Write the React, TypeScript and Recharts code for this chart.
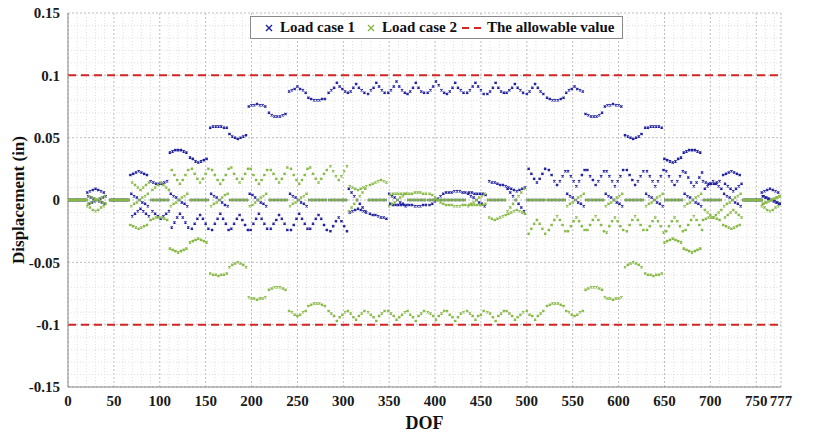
import { ScatterChart, Scatter, XAxis, YAxis, CartesianGrid, ReferenceLine } from 'recharts';

// DOF where each group of 7 nodes starts (3 DOF per node)
const segStart = [0, 21, 46, 68, 90, 111, 133, 155, 176, 197, 219, 241, 262, 284, 305, 327, 349, 370, 392, 413, 435, 457, 478, 500, 522, 543, 564, 585, 607, 629, 650, 671, 692, 714, 736, 756];

const Z = [0, 0, 0, 0, 0, 0, 0];

// displacements in 1e-3 in, one row per group
const lc1Main = [
  Z, [6, 7, 8, 9, 8, 7, 6], Z,
  [20, 21, 22, 23, 22, 21, 20], [15, 14, 13, 13, 13, 14, 15],
  [38, 39, 40, 40, 40, 39, 38], [34, 33, 31, 30, 31, 32, 33],
  [58, 59, 59, 59, 59, 58, 58], [53, 51, 50, 49, 50, 51, 52],
  [75, 76, 76, 77, 76, 76, 75], [70, 68, 67, 67, 67, 68, 69],
  [87, 88, 89, 91, 89, 88, 86], [82, 81, 80, 80, 80, 81, 81],
  [86, 88, 90, 94, 91, 89, 87], [86, 87, 90, 93, 90, 88, 86],
  [85, 88, 90, 94, 91, 88, 86], [86, 88, 91, 95, 91, 88, 86],
  [85, 87, 90, 94, 90, 87, 86], [86, 88, 91, 95, 92, 88, 86],
  [85, 87, 90, 94, 90, 88, 86], [86, 88, 91, 94, 91, 88, 85],
  [85, 87, 90, 94, 90, 87, 86], [86, 88, 90, 93, 90, 88, 86],
  [85, 87, 90, 93, 90, 87, 85],
  [82, 81, 80, 80, 80, 81, 82], [86, 88, 89, 91, 89, 88, 87],
  [69, 68, 67, 67, 67, 68, 70], [75, 76, 76, 77, 76, 76, 75],
  [52, 51, 50, 49, 50, 51, 53], [58, 58, 59, 59, 59, 59, 58],
  [33, 32, 31, 30, 31, 33, 34], [38, 39, 40, 40, 40, 39, 38],
  [15, 14, 13, 13, 13, 14, 15], [20, 21, 22, 23, 22, 21, 20],
  Z, [6, 7, 8, 9, 8, 7, 6],
];

const lc1Cross = [
  Z, [3, 2, 1, 0, -1, -2, -3], Z,
  [5, 3, 2, 0, -2, -3, -5], Z, [5, 3, 2, 0, -2, -3, -5], Z,
  [5, 3, 2, 0, -2, -4, -5], Z, [5, 4, 2, 0, -2, -3, -5], Z,
  [5, 3, 2, 0, -2, -3, -5], Z, Z,
  [9, 6, 3, 0, -3, -6, -9], Z, [5, 3, 2, 0, -2, -3, -5], Z, Z, Z,
  [5, 3, 2, 0, -2, -3, -5], Z, [9, 6, 3, 0, -3, -6, -9], Z, Z,
  [5, 3, 2, 0, -2, -3, -5], Z, [5, 3, 2, 0, -2, -3, -5], Z,
  [5, 3, 2, 0, -2, -3, -5], Z, [5, 3, 2, 0, -2, -3, -5], Z,
  [5, 3, 2, 0, -2, -3, -5], Z, [3, 2, 1, 0, -1, -2, -3],
];

const lc1Zig = [
  Z, [-3, -2, -1, 0, 1, 2, 3], Z,
  [-13, -11, -9, -7, -9, -11, -13], [-9, -11, -13, -15, -13, -11, -9],
  [-22, -18, -14, -11, -14, -18, -22], [-23, -19, -15, -12, -15, -19, -23],
  [-24, -19, -15, -11, -15, -19, -24], [-23, -19, -15, -12, -16, -20, -24],
  [-24, -19, -15, -11, -15, -19, -23], [-23, -19, -16, -12, -15, -19, -24],
  [-24, -20, -15, -11, -15, -19, -23], [-23, -19, -15, -12, -15, -20, -24],
  [-25, -21, -17, -14, -17, -21, -25],
  [-10, -9, -8, -7, -8, -9, -10], [-11, -12, -12, -13, -14, -14, -15],
  [-3, -4, -4, -4, -4, -4, -4], [-4, -4, -5, -5, -5, -4, -4],
  [-4, -3, -1, 1, 3, 5, 6], [6, 6, 7, 7, 7, 6, 6], [6, 6, 5, 5, 5, 5, 4],
  [15, 14, 14, 13, 12, 12, 11], [10, 9, 8, 7, 8, 9, 10],
  [25, 21, 17, 14, 17, 21, 25],
  [24, 20, 15, 12, 15, 19, 23], [23, 19, 15, 11, 15, 20, 24],
  [24, 19, 16, 12, 15, 19, 23], [23, 19, 15, 11, 15, 19, 24],
  [24, 20, 16, 12, 15, 19, 23], [23, 19, 15, 11, 15, 19, 24],
  [23, 19, 15, 12, 15, 19, 23], [22, 18, 14, 11, 14, 18, 22],
  [9, 11, 13, 15, 13, 11, 9], [13, 11, 9, 7, 9, 11, 13],
  Z, [3, 2, 1, 0, -1, -2, -3],
];

const lc2Main = [
  Z, [-5, -6, -8, -9, -8, -6, -5], Z,
  [-20, -21, -22, -23, -22, -21, -20], [-16, -15, -14, -14, -14, -15, -16],
  [-39, -40, -41, -42, -41, -40, -39], [-34, -33, -32, -31, -32, -33, -34],
  [-59, -60, -60, -61, -60, -60, -59], [-54, -52, -51, -50, -51, -52, -54],
  [-78, -79, -79, -80, -79, -79, -78], [-72, -71, -70, -70, -70, -71, -72],
  [-89, -90, -92, -93, -92, -90, -89], [-85, -84, -83, -83, -83, -84, -85],
  [-89, -91, -93, -97, -94, -92, -90], [-89, -91, -94, -96, -93, -91, -89],
  [-90, -92, -94, -97, -93, -91, -89], [-89, -91, -93, -96, -94, -92, -90],
  [-89, -92, -94, -97, -93, -91, -89], [-90, -91, -93, -96, -93, -91, -89],
  [-89, -92, -94, -97, -94, -91, -90], [-89, -91, -93, -96, -93, -92, -89],
  [-90, -91, -94, -97, -93, -91, -89], [-89, -91, -93, -96, -94, -92, -90],
  [-89, -92, -93, -96, -93, -91, -89],
  [-85, -84, -83, -83, -83, -84, -85], [-89, -90, -92, -93, -92, -90, -89],
  [-72, -71, -70, -70, -70, -71, -72], [-78, -79, -79, -80, -79, -79, -78],
  [-54, -52, -51, -50, -51, -52, -54], [-59, -60, -60, -61, -60, -60, -59],
  [-34, -33, -32, -31, -32, -33, -34], [-39, -40, -41, -42, -41, -40, -39],
  [-16, -15, -14, -14, -14, -15, -16], [-20, -21, -22, -23, -22, -21, -20],
  Z, [-5, -6, -8, -9, -8, -6, -5],
];

const lc2Cross = [
  Z, [-3, -2, -1, 0, 1, 2, 3], Z,
  [-5, -3, -2, 0, 2, 3, 5], Z, [-5, -3, -2, 0, 2, 3, 5], Z,
  [-5, -3, -2, 0, 2, 4, 5], Z, [-5, -4, -2, 0, 2, 3, 5], Z,
  [-5, -3, -2, 0, 2, 3, 5], Z, Z,
  [-9, -6, -3, 0, 3, 6, 9], Z, [-5, -3, -2, 0, 2, 3, 5], Z, Z, Z,
  [-5, -3, -2, 0, 2, 3, 5], Z, [-9, -6, -3, 0, 3, 6, 9], Z, Z,
  [-5, -3, -2, 0, 2, 3, 5], Z, [-5, -3, -2, 0, 2, 3, 5], Z,
  [-5, -3, -2, 0, 2, 3, 5], Z, [-5, -3, -2, 0, 2, 3, 5], Z,
  [-5, -3, -2, 0, 2, 3, 5], Z, [-3, -2, -1, 0, 1, 2, 3],
];

const lc2Zig = [
  Z, [3, 2, 1, 0, -1, -2, -3], Z,
  [14, 12, 10, 8, 10, 12, 14], [8, 10, 12, 14, 12, 10, 8],
  [24, 20, 16, 13, 16, 20, 24], [25, 21, 17, 14, 17, 21, 25],
  [24, 20, 16, 13, 16, 20, 25], [26, 21, 17, 14, 17, 21, 25],
  [25, 20, 16, 13, 16, 20, 24], [24, 21, 17, 14, 17, 21, 26],
  [25, 20, 16, 13, 16, 20, 25], [26, 21, 17, 14, 17, 21, 24],
  [27, 23, 19, 16, 19, 23, 27],
  [11, 10, 9, 8, 9, 10, 11], [12, 13, 14, 15, 16, 15, 14],
  [4, 5, 5, 5, 5, 5, 5], [5, 5, 6, 6, 6, 5, 5],
  [5, 4, 2, 0, -2, -3, -4], [-4, -4, -5, -5, -5, -4, -4], [-4, -4, -4, -4, -4, -4, -3],
  [-14, -15, -16, -15, -14, -13, -12], [-11, -10, -9, -8, -9, -10, -11],
  [-27, -23, -19, -16, -19, -23, -27],
  [-24, -20, -16, -13, -16, -20, -25], [-25, -21, -17, -14, -17, -21, -24],
  [-24, -20, -16, -13, -16, -20, -25], [-26, -21, -17, -14, -17, -21, -24],
  [-25, -20, -16, -13, -16, -20, -24], [-24, -21, -17, -14, -17, -21, -26],
  [-25, -21, -17, -14, -17, -21, -25], [-24, -20, -16, -13, -16, -20, -24],
  [-8, -10, -12, -14, -12, -10, -8], [-14, -12, -10, -8, -10, -12, -14],
  Z, [-3, -2, -1, 0, 1, 2, 3],
];

const allowable = [0.1, -0.1];
const seriesNames = ['Load case 1', 'Load case 2', 'The allowable value'];

const xTicks = [0, 50, 100, 150, 200, 250, 300, 350, 400, 450, 500, 550, 600, 650, 700, 750, 777];
const yTicks = [-0.15, -0.1, -0.05, 0, 0.05, 0.1, 0.15];
const xMinor = [10, 20, 30, 40, 60, 70, 80, 90, 110, 120, 130, 140, 160, 170, 180, 190, 210, 220, 230, 240, 260, 270, 280, 290, 310, 320, 330, 340, 360, 370, 380, 390, 410, 420, 430, 440, 460, 470, 480, 490, 510, 520, 530, 540, 560, 570, 580, 590, 610, 620, 630, 640, 660, 670, 680, 690, 710, 720, 730, 740, 760, 770];
const yMinor = [-0.14, -0.13, -0.12, -0.11, -0.09, -0.08, -0.07, -0.06, -0.04, -0.03, -0.02, -0.01, 0.01, 0.02, 0.03, 0.04, 0.06, 0.07, 0.08, 0.09, 0.11, 0.12, 0.13, 0.14];

const BLUE = '#1e1e9e';
const GREEN = '#86b843';
const RED = '#d42424';
const FONT = 'Liberation Serif, serif';

function toPoints(tracks: number[][][]) {
  const pts: { x: number; y: number }[] = [];
  tracks.forEach((track, offset) => {
    track.forEach((vals, k) => {
      vals.forEach((v, j) => {
        pts.push({ x: segStart[k] + 3 * j + offset, y: v / 1000 });
      });
    });
  });
  return pts;
}

const lc1Points = toPoints([lc1Main, lc1Cross, lc1Zig]);
const lc2Points = toPoints([lc2Main, lc2Cross, lc2Zig]);

const crossShape = (color: string) => (props: any) => {
  const { cx, cy } = props;
  if (cx == null || cy == null) return <g />;
  const s = 1.1;
  return (
    <path
      d={`M${cx - s},${cy - s}L${cx + s},${cy + s}M${cx - s},${cy + s}L${cx + s},${cy - s}`}
      stroke={color}
      strokeWidth={1.2}
      fill="none"
    />
  );
};

const tickStyle = { fontFamily: FONT, fontWeight: 'bold', fontSize: 15, fill: '#1a1a1a' };

function LegendBox() {
  return (
    <div
      style={{
        position: 'absolute', left: 250, top: 16, width: 371, height: 21,
        border: '1px solid #8a8a8a', background: '#fff', display: 'flex', alignItems: 'center',
        fontFamily: FONT, fontWeight: 'bold', fontSize: 15, color: '#111', whiteSpace: 'nowrap',
      }}
    >
      <svg width={12} height={10} style={{ marginLeft: 12, marginRight: 5 }}>
        <path d="M3,2L9,8M3,8L9,2" stroke={BLUE} strokeWidth={1.4} />
      </svg>
      <span>{seriesNames[0]}</span>
      <svg width={12} height={10} style={{ marginLeft: 10, marginRight: 5 }}>
        <path d="M3,2L9,8M3,8L9,2" stroke={GREEN} strokeWidth={1.4} />
      </svg>
      <span>{seriesNames[1]}</span>
      <svg width={22} height={10} style={{ marginLeft: 4, marginRight: 4 }}>
        <path d="M1,5L21,5" stroke={RED} strokeWidth={2} strokeDasharray="7 5" />
      </svg>
      <span>{seriesNames[2]}</span>
    </div>
  );
}

export default function App() {
  return (
    <div style={{ position: 'absolute', left: 0, top: 0, width: 815, height: 434, background: '#fff' }}>
      <ScatterChart width={815} height={434} margin={{ top: 13, right: 34, bottom: 0, left: 0 }}>
        {xMinor.map((v) => (
          <ReferenceLine key={'xm' + v} x={v} stroke="#e0e0e0" strokeDasharray="1 2" />
        ))}
        {yMinor.map((v) => (
          <ReferenceLine key={'ym' + v} y={v} stroke="#e0e0e0" strokeDasharray="1 2" />
        ))}
        <CartesianGrid stroke="#bdbdbd" strokeDasharray="2 2" />
        <XAxis
          type="number"
          dataKey="x"
          domain={[0, 777]}
          ticks={xTicks}
          interval={0}
          allowDataOverflow
          height={47}
          tickLine={false}
          stroke="#8a8a8a"
          tick={tickStyle}
          label={{ value: 'DOF', position: 'insideBottom', offset: 5, fill: '#111', fontSize: 18, fontWeight: 'bold', fontFamily: FONT }}
        />
        <XAxis xAxisId="top" orientation="top" type="number" domain={[0, 777]} height={0} tick={false} tickLine={false} stroke="#8a8a8a" />
        <YAxis
          type="number"
          dataKey="y"
          domain={[-0.15, 0.15]}
          ticks={yTicks}
          interval={0}
          allowDataOverflow
          width={68}
          tickLine={false}
          stroke="#8a8a8a"
          tick={tickStyle}
          label={{
            content: (p: any) => {
              const vb = p.viewBox || { x: 0, y: 13, height: 374 };
              const cx = vb.x + 20;
              const cy = vb.y + vb.height / 2;
              return (
                <text x={cx} y={cy} transform={`rotate(-90 ${cx} ${cy})`} textAnchor="middle" dominantBaseline="middle"
                  fontFamily={FONT} fontWeight="bold" fontSize={17} fill="#111">
                  Displacement (in)
                </text>
              );
            },
          }}
        />
        <YAxis yAxisId="right" orientation="right" type="number" domain={[-0.15, 0.15]} width={0} tick={false} tickLine={false} stroke="#8a8a8a" />
        <Scatter name={seriesNames[0]} data={lc1Points} fill={BLUE} shape={crossShape(BLUE)} isAnimationActive={false} />
        <Scatter name={seriesNames[1]} data={lc2Points} fill={GREEN} shape={crossShape(GREEN)} isAnimationActive={false} />
        {allowable.map((v) => (
          <ReferenceLine key={'al' + v} y={v} stroke={RED} strokeWidth={2} strokeDasharray="8 5" />
        ))}
      </ScatterChart>
      <LegendBox />
    </div>
  );
}
